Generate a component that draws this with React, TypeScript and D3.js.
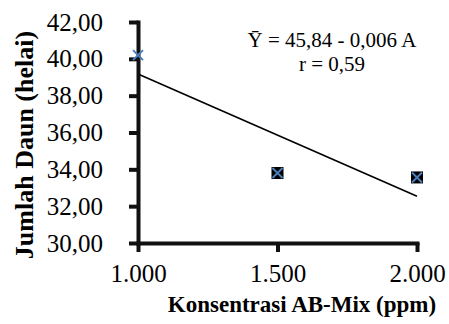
import React, { useEffect, useRef } from "react";
import * as d3 from "d3";

const concentrations = [1000, 1500, 2000];
const leafCounts = [40.2, 33.8, 33.56];
const yTicks = [30, 32, 34, 36, 38, 40, 42];
const xTicks = [1000, 1500, 2000];
const equationLines = ["\u0232 = 45,84 - 0,006 A", "r = 0,59"];
const yTitle = "Jumlah Daun (helai)";
const xTitle = "Konsentrasi AB-Mix (ppm)";

export default function App() {
  const ref = useRef<SVGSVGElement>(null);
  const W = 449, H = 324;

  useEffect(() => {
    const svg = d3.select(ref.current);
    svg.selectAll("*").remove();
    const x = d3.scaleLinear().domain([1000, 2000]).range([138, 417]);
    const y = d3.scaleLinear().domain([30, 42]).range([243, 22]);
    const mx = d3.mean(concentrations) as number;
    const my = d3.mean(leafCounts) as number;
    const slope =
      d3.sum(concentrations.map((c, i) => (c - mx) * (leafCounts[i] - my))) /
      d3.sum(concentrations.map((c) => (c - mx) ** 2));
    const icpt = my - slope * mx;
    const fmtY = (v: number) => v.toFixed(2).replace(".", ",");
    const fmtX = (v: number) => d3.format(",")(v as number).replace(",", ".");

    svg.append("rect").attr("width", W).attr("height", H).attr("fill", "#fff");

    const line = d3.line<number>().x((c) => x(c)).y((c) => y(icpt + slope * c));
    svg.append("path").attr("d", line([1000, 2000]) || "").attr("stroke", "#000").attr("stroke-width", 1.6).attr("fill", "none");

    const yAxis = svg.append("g").attr("transform", `translate(${x(1000)},0)`)
      .call(d3.axisLeft(y).tickValues(yTicks).tickSize(9).tickSizeOuter(0).tickPadding(26).tickFormat((d) => fmtY(d as number)));
    const xAxis = svg.append("g").attr("transform", `translate(0,${y(30)})`)
      .call(d3.axisBottom(x).tickValues(xTicks).tickSize(9).tickSizeOuter(0).tickPadding(12).tickFormat((d) => fmtX(d as number)));
    [yAxis, xAxis].forEach((g) => {
      g.select(".domain").attr("stroke", "#111").attr("stroke-width", 4).attr("stroke-linecap", "square");
      g.selectAll(".tick line").attr("stroke", "#111").attr("stroke-width", 4);
      g.selectAll(".tick text").attr("fill", "#000").attr("font-family", "'Liberation Serif', serif").attr("font-size", 25);
    });

    concentrations.forEach((c, i) => {
      const cx = x(c), cy = y(leafCounts[i]);
      const s = 6;
      if (i > 0) svg.append("rect").attr("x", cx - s).attr("y", cy - s).attr("width", 2 * s).attr("height", 2 * s).attr("fill", "#000");
      svg.append("path")
        .attr("d", `M${cx - s + 1},${cy - s + 1}L${cx + s - 1},${cy + s - 1}M${cx - s + 1},${cy + s - 1}L${cx + s - 1},${cy - s + 1}`)
        .attr("stroke", "#4a7ebb").attr("stroke-width", 2);
    });

    equationLines.forEach((l, i) => {
      svg.append("text").attr("x", 332).attr("y", 47 + i * 24).attr("text-anchor", "middle")
        .attr("font-family", "'Liberation Serif', serif").attr("font-size", 21).text(l);
    });
    svg.append("text").attr("transform", "translate(33,145) rotate(-90)").attr("text-anchor", "middle")
      .attr("font-family", "'Liberation Serif', serif").attr("font-size", 26).attr("font-weight", "bold").text(yTitle);
    svg.append("text").attr("x", 302).attr("y", 312).attr("text-anchor", "middle")
      .attr("font-family", "'Liberation Serif', serif").attr("font-size", 23).attr("font-weight", "bold").text(xTitle);
  }, []);

  return <svg ref={ref} width={W} height={H} style={{ position: "absolute", left: 0, top: 0 }} />;
}
